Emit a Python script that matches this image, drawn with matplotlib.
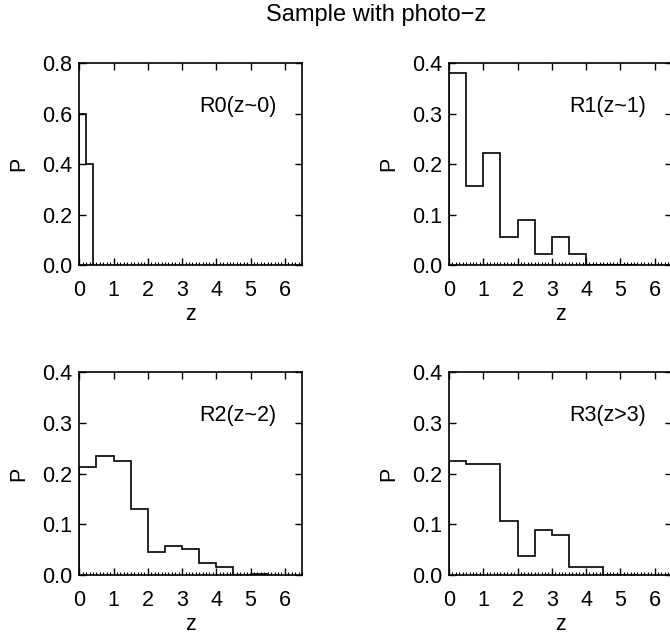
import matplotlib
matplotlib.use("Agg")
import matplotlib.pyplot as plt
from matplotlib.ticker import MultipleLocator, FormatStrFormatter
import matplotlib.transforms as mtransforms

plt.rcParams['font.family'] = ['Liberation Sans', 'DejaVu Sans']

title = "Sample with photo\u2212z"
labels = ["R0(z~0)", "R1(z~1)", "R2(z~2)", "R3(z>3)"]

edges_r0 = [0.0, 0.2, 0.4]
p_r0 = [0.6, 0.4]

edges_half = [0.0, 0.5, 1.0, 1.5, 2.0, 2.5, 3.0, 3.5, 4.0, 4.5, 5.0, 5.5]
p_r1 = [0.380, 0.156, 0.222, 0.056, 0.089, 0.022, 0.056, 0.022, 0.0, 0.0, 0.0]
p_r2 = [0.214, 0.235, 0.225, 0.130, 0.045, 0.058, 0.052, 0.024, 0.015, 0.0, 0.002]
p_r3 = [0.224, 0.219, 0.219, 0.107, 0.037, 0.089, 0.079, 0.015, 0.015, 0.0, 0.0]

panels = [
    (edges_r0, p_r0, labels[0], 0.8, 0.2),
    (edges_half, p_r1, labels[1], 0.4, 0.1),
    (edges_half, p_r2, labels[2], 0.4, 0.1),
    (edges_half, p_r3, labels[3], 0.4, 0.1),
]

W, H = 670, 635
fig = plt.figure(figsize=(W / 100, H / 100), dpi=100)

def px_axes(x0, x1, ytop, ybot):
    return [x0 / W, 1 - ybot / H, (x1 - x0) / W, (ybot - ytop) / H]

rects = [
    px_axes(79.3, 302.0, 63.3, 265.0),
    px_axes(449.0, 671.7, 63.3, 265.0),
    px_axes(79.3, 302.0, 372.3, 575.0),
    px_axes(449.0, 671.7, 372.3, 575.0),
]

fs = 15.5
for rect, (edges, vals, lab, ymax, ystep) in zip(rects, panels):
    ax = fig.add_axes(rect)
    ax.stairs(vals, edges, color='black', linewidth=1.2, baseline=0, fill=False)
    ax.set_xlim(0, 6.5)
    ax.set_ylim(0, ymax)
    ax.xaxis.set_major_locator(MultipleLocator(1))
    ax.xaxis.set_minor_locator(MultipleLocator(0.1))
    ax.yaxis.set_major_locator(MultipleLocator(ystep))
    ax.yaxis.set_major_formatter(FormatStrFormatter('%.1f'))
    ax.tick_params(which='major', direction='in', top=True, right=True,
                   length=5, width=1.0, labelsize=fs)
    ax.tick_params(axis='x', which='major', pad=11)
    ax.tick_params(axis='y', which='major', pad=5)
    ax.tick_params(which='minor', axis='x', direction='in', bottom=True,
                   top=False, length=2.5, width=0.8)
    for s in ax.spines.values():
        s.set_linewidth(1.2)
    ax.set_xlabel('z', fontsize=fs, labelpad=2)
    ax.set_ylabel('P', fontsize=fs, labelpad=9)
    trans = mtransforms.blended_transform_factory(ax.transData, ax.transAxes)
    ax.text(3.5, 0.785, lab, transform=trans, fontsize=fs, ha='left', va='center')

fig.text(376 / W, 1 - 15 / H, title, fontsize=17, ha='center', va='center')

fig.savefig('out.png', dpi=100)
